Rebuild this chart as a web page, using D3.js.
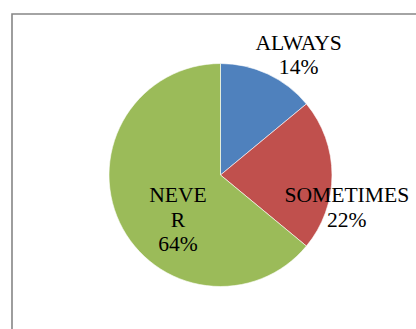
<!DOCTYPE html>
<html>
<head>
<meta charset="utf-8">
<script src="https://cdn.jsdelivr.net/npm/d3@7"></script>
<style>
  html, body { margin: 0; padding: 0; background: #fff; }
  svg { display: block; }
  text { font-family: "Liberation Serif", "Times New Roman", serif; fill: #000; }
</style>
</head>
<body>
<svg id="chart" width="416" height="329"></svg>
<script>
// Survey answers and their shares (percent)
const categories = ["ALWAYS", "SOMETIMES", "NEVER"];
const values = [14, 22, 64];
const colors = ["#4F81BD", "#C0504D", "#9BBB59"];
// Label lines as they wrap inside the chart
const labelLines = [["ALWAYS", "14%"], ["SOMETIMES", "22%"], ["NEVE", "R", "64%"]];

const svg = d3.select("#chart");
const W = 416, H = 329;

// Chart area frame (top and left edges visible)
svg.append("path")
  .attr("d", `M12,${H} L12,14 L${W},14`)
  .attr("fill", "none")
  .attr("stroke", "#868686")
  .attr("stroke-width", 1.6);

const cx = 220.5, cy = 175, r = 111.5;

// Label placement: shift from the slice's middle angle (degrees) and distance as a fraction of r
const labelShift = [8, 14.5, -21.5];
const labelDist = [1.28, 1.17, 0.556];

const color = d3.scaleOrdinal().domain(categories).range(colors);
const pie = d3.pie().sort(null).value(d => d.value);
const arcs = pie(categories.map((c, i) => ({ cat: c, value: values[i], lines: labelLines[i] })));
const arc = d3.arc().innerRadius(0).outerRadius(r);

const g = svg.append("g").attr("transform", `translate(${cx},${cy})`);

g.selectAll("path.slice")
  .data(arcs)
  .join("path")
  .attr("class", "slice")
  .attr("d", arc)
  .attr("fill", d => color(d.data.cat))
  .attr("stroke", "#fff")
  .attr("stroke-width", 0.6);

const fontSize = 20;
const lineH = 24.5;

g.selectAll("g.label")
  .data(arcs)
  .join("g")
  .attr("class", "label")
  .each(function (d, i) {
    const mid = (d.startAngle + d.endAngle) / 2 + labelShift[i] * Math.PI / 180;
    const x = Math.sin(mid) * r * labelDist[i];
    const y = -Math.cos(mid) * r * labelDist[i];
    const n = d.data.lines.length;
    const t = d3.select(this).append("text")
      .attr("text-anchor", "middle")
      .attr("font-size", fontSize)
      .attr("transform", `translate(${x},${y}) scale(1.08,1)`);
    d.data.lines.forEach((ln, k) => {
      t.append("tspan")
        .attr("x", 0)
        .attr("y", (k - (n - 1) / 2) * lineH + fontSize * 0.33)
        .text(ln);
    });
  });
</script>
</body>
</html>
